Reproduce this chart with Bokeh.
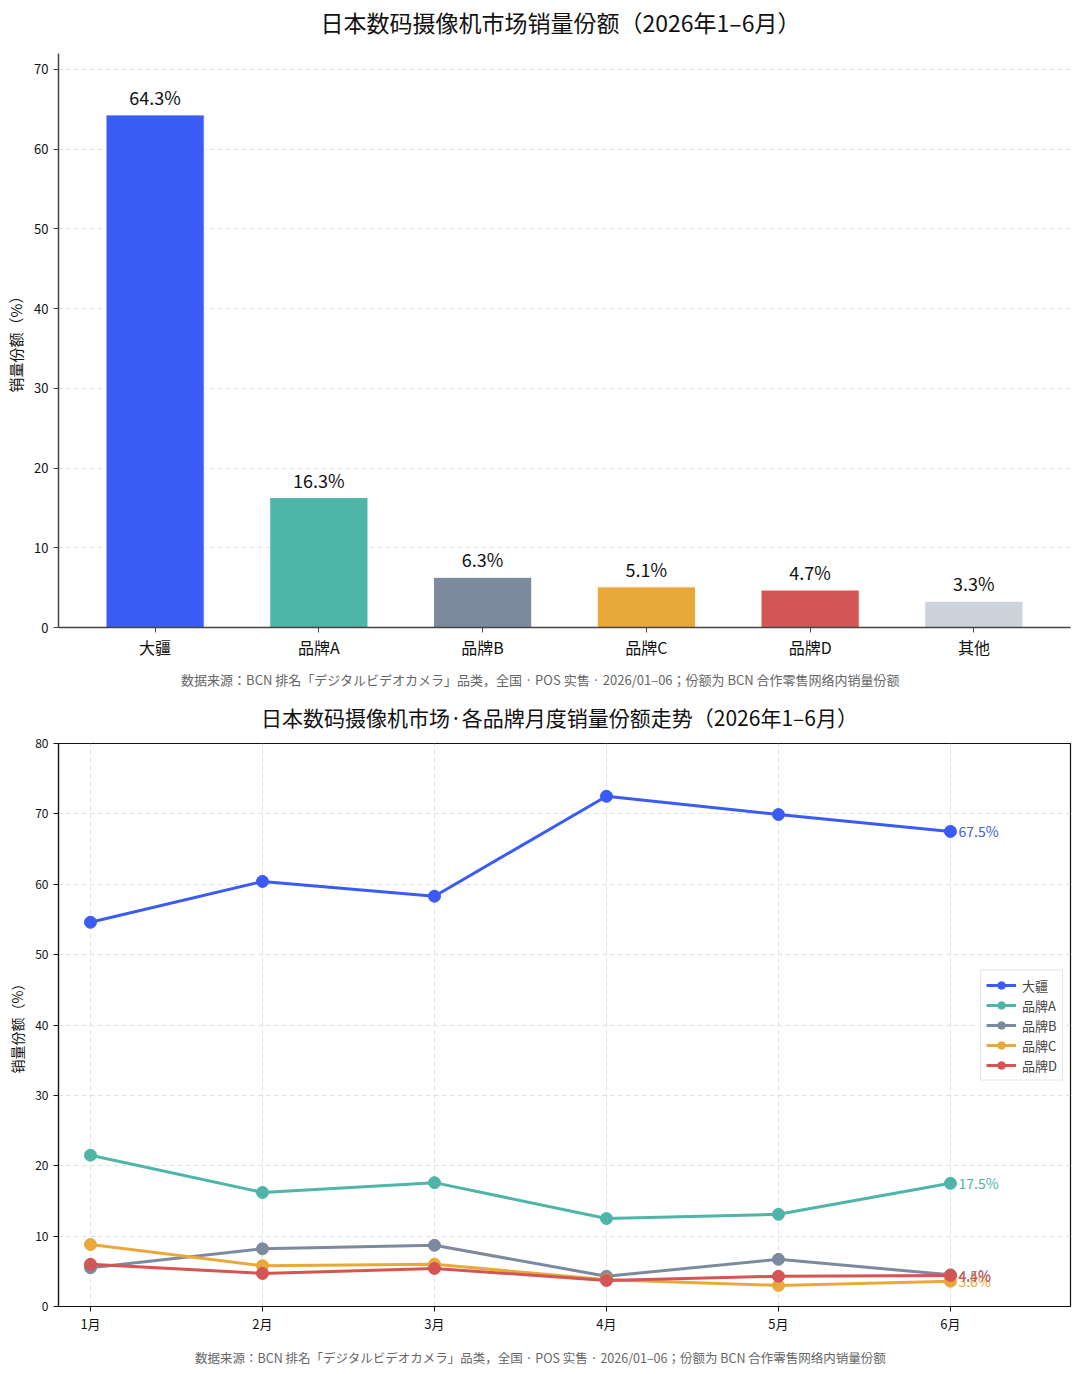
from bokeh.plotting import figure
from bokeh.models import Range1d, FixedTicker, ColumnDataSource, Legend
from bokeh.layouts import column
from bokeh.embed import file_html
from bokeh.resources import INLINE
from bokeh.core.properties import value

FONT = "Noto Sans CJK JP"

# ---- data ----
brands_all = ["大疆", "品牌A", "品牌B", "品牌C", "品牌D", "其他"]
shares_total = [64.3, 16.3, 6.3, 5.1, 4.7, 3.3]
colors_all = ["#3a5bf5", "#4fb5a8", "#7d8a9e", "#e8a93a", "#d45555", "#cdd3dd"]

months = ["1月", "2月", "3月", "4月", "5月", "6月"]
dji = [54.6, 60.4, 58.3, 72.5, 69.9, 67.5]
brand_a = [21.5, 16.2, 17.6, 12.5, 13.1, 17.5]
brand_b = [5.5, 8.2, 8.7, 4.3, 6.7, 4.5]
brand_c = [8.8, 5.8, 6.0, 3.8, 3.0, 3.6]
brand_d = [6.0, 4.7, 5.4, 3.7, 4.3, 4.4]

title1 = "日本数码摄像机市场销量份额（2026年1–6月）"
title2 = "日本数码摄像机市场·各品牌月度销量份额走势（2026年1–6月）"
note = "数据来源：BCN 排名「デジタルビデオカメラ」品类，全国 · POS 实售 · 2026/01–06；份额为 BCN 合作零售网络内销量份额"
ylabel = "销量份额（%）"

W = 1072
FRAME_L, FRAME_R = 58, 1070   # frames are aligned across the column


def text_strip(txt, height, cx, cy_from_top, size, color):
    """A blank strip that only carries one line of text (title or source note)."""
    f = figure(width=W, height=height, x_range=Range1d(FRAME_L, FRAME_R), y_range=Range1d(0, height),
               output_backend="svg", toolbar_location=None, x_axis_type=None, y_axis_type=None,
               min_border=0, min_border_left=FRAME_L, min_border_right=W - FRAME_R,
               min_border_top=0, min_border_bottom=0)
    f.outline_line_color = None
    f.xgrid.grid_line_color = None
    f.ygrid.grid_line_color = None
    f.text(x=[cx], y=[height - cy_from_top], text=[txt], text_align="center", text_baseline="middle",
           text_font=value(FONT), text_font_size=size, text_color=color)
    return f


def style_axes(p, color, width):
    for ax in (p.xaxis, p.yaxis):
        ax.axis_line_color = color
        ax.axis_line_width = width
        ax.major_tick_line_color = color
        ax.minor_tick_line_color = None
        ax.major_tick_out = 5
        ax.major_tick_in = 0
        ax.major_label_text_font = FONT
        ax.major_label_text_color = "#111111"
        ax.axis_label_text_font = FONT
        ax.axis_label_text_font_style = "normal"
        ax.axis_label_text_color = "#111111"


# ---- top chart ----
t1 = text_strip(title1, 45, 560, 21, "23px", "#111111")

idx = list(range(len(brands_all)))
p1 = figure(width=W, height=618, x_range=Range1d(-0.59, 5.59), y_range=Range1d(0, 72),
            output_backend="svg", toolbar_location=None,
            min_border_left=FRAME_L, min_border_right=W - FRAME_R, min_border_top=8, min_border_bottom=36)
p1.outline_line_color = None

src1 = ColumnDataSource(dict(x=idx, top=shares_total, color=colors_all,
                             label=[f"{v:.1f}%" for v in shares_total]))
p1.vbar(x="x", top="top", width=0.6, fill_color="color", line_color="white", line_width=1, source=src1)
p1.text(x="x", y="top", text="label", source=src1, text_align="center", text_baseline="bottom",
        y_offset=-5, text_font=value(FONT), text_font_size="18px", text_color="#111111")

p1.xgrid.grid_line_color = None
p1.ygrid.grid_line_color = "#dddddd"
p1.ygrid.grid_line_dash = "4 4"
style_axes(p1, "#444444", 1.5)
p1.xaxis.ticker = FixedTicker(ticks=idx)
p1.xaxis.major_label_overrides = {i: b for i, b in enumerate(brands_all)}
p1.xaxis.major_label_text_font_size = "16px"
p1.xaxis.major_label_standoff = 2
p1.yaxis.ticker = FixedTicker(ticks=[0, 10, 20, 30, 40, 50, 60, 70])
p1.yaxis.major_label_text_font_size = "13px"
p1.yaxis.axis_label = ylabel
p1.yaxis.axis_label_text_font_size = "15px"

n1 = text_strip(note, 34, 540, 16, "13px", "#666666")

# ---- bottom chart ----
t2 = text_strip(title2, 35, 559, 19, "21px", "#111111")

p2 = figure(width=W, height=604, x_range=Range1d(-0.186, 5.698), y_range=Range1d(0, 80),
            output_backend="svg", toolbar_location=None,
            min_border_left=FRAME_L, min_border_right=W - FRAME_R, min_border_top=11, min_border_bottom=30)
p2.outline_line_color = "#111111"
p2.outline_line_width = 1.2

series = [("大疆", dji, colors_all[0]), ("品牌A", brand_a, colors_all[1]),
          ("品牌B", brand_b, colors_all[2]), ("品牌C", brand_c, colors_all[3]),
          ("品牌D", brand_d, colors_all[4])]
mx = list(range(len(months)))
items = []
for name, ys, col in series:
    r1 = p2.line(mx, ys, line_color=col, line_width=3)
    r2 = p2.scatter(mx, ys, size=12, fill_color=col, line_color=col)
    items.append((name, [r1, r2]))
for name, ys, col in series:
    p2.text(x=[mx[-1]], y=[ys[-1]], text=[f"{ys[-1]:.1f}%"], x_offset=8, text_baseline="middle",
            text_font=value(FONT), text_font_size="14px", text_color=col)

legend = Legend(items=items, location="center_right")
legend.label_text_font = FONT
legend.label_text_font_size = "13px"
legend.glyph_width = 30
legend.glyph_height = 19
legend.label_standoff = 6
legend.spacing = 1
legend.padding = 5
legend.margin = 7
legend.border_line_color = "#cccccc"
legend.background_fill_alpha = 0.9
p2.add_layout(legend)

p2.xgrid.grid_line_color = "#dddddd"
p2.xgrid.grid_line_dash = "4 4"
p2.ygrid.grid_line_color = "#dddddd"
p2.ygrid.grid_line_dash = "4 4"
style_axes(p2, "#111111", 1.2)
p2.xaxis.ticker = FixedTicker(ticks=mx)
p2.xaxis.major_label_overrides = {i: m for i, m in enumerate(months)}
p2.xaxis.major_label_text_font_size = "13px"
p2.xaxis.major_label_standoff = 2
p2.yaxis.ticker = FixedTicker(ticks=[0, 10, 20, 30, 40, 50, 60, 70, 80])
p2.yaxis.major_label_text_font_size = "12px"
p2.yaxis.axis_label = ylabel
p2.yaxis.axis_label_text_font_size = "14px"

n2 = text_strip(note, 34, 540, 21, "12.5px", "#666666")

layout = column(t1, p1, n1, t2, p2, n2, spacing=0)
open("out.html", "w").write(file_html(layout, INLINE))
